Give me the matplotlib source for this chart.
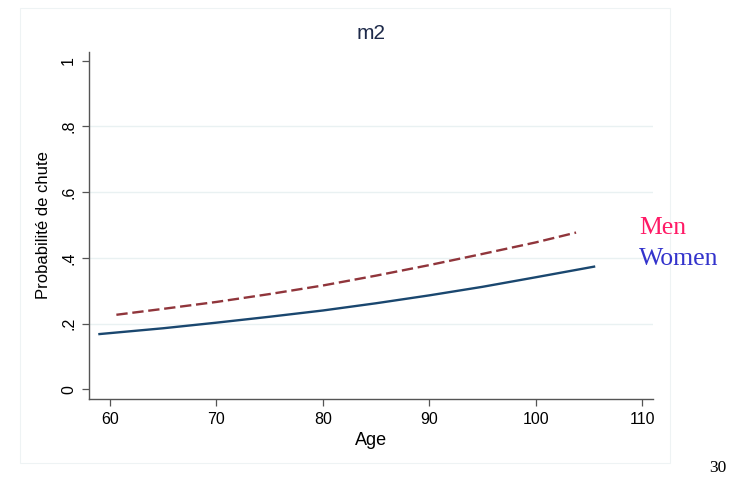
import matplotlib
matplotlib.use("Agg")
import matplotlib.pyplot as plt
from matplotlib.patches import Rectangle

# values
age_women = [58.9, 65, 70, 75, 80, 85, 90, 95, 100, 105.6]
prob_women = [0.168, 0.186, 0.203, 0.221, 0.240, 0.262, 0.286, 0.312, 0.341, 0.374]

age_men = [60.6, 65, 70, 75, 80, 85, 90, 95, 100, 103.8]
prob_men = [0.227, 0.245, 0.266, 0.290, 0.316, 0.346, 0.378, 0.412, 0.447, 0.477]

x_ticks = [60, 70, 80, 90, 100, 110]
y_ticks = [0, 0.2, 0.4, 0.6, 0.8, 1]
y_ticklabels = ["0", ".2", ".4", ".6", ".8", "1"]
grid_vals = [0.2, 0.4, 0.6, 0.8]

plt.rcParams['font.family'] = ['Liberation Sans', 'DejaVu Sans']

fig = plt.figure(figsize=(7.38, 4.79), dpi=100)
fig.patch.set_facecolor('white')

# faint outer frame of the graph region
fig.patches.append(Rectangle((20 / 738, 1 - 463 / 479), 650 / 738, 455 / 479,
                             transform=fig.transFigure, fill=False,
                             edgecolor='#eef3f4', linewidth=0.8))

ax = fig.add_axes([0.1202, 0.1664, 0.7642, 0.7257])
ax.set_xlim(58.0, 111.0)
ax.set_ylim(-0.030, 1.027)

for g in grid_vals:
    ax.axhline(g, color='#e9f1f2', linewidth=1.0, zorder=0)

ax.plot(age_women, prob_women, color='#1a476f', linewidth=1.7, solid_capstyle='butt')
ax.plot(age_men, prob_men, color='#90353b', linewidth=1.7, linestyle=(0, (4.8, 2.0)))

for s in ['top', 'right']:
    ax.spines[s].set_visible(False)
for s in ['left', 'bottom']:
    ax.spines[s].set_color('#555555')
    ax.spines[s].set_linewidth(1.0)

ax.set_xticks(x_ticks)
ax.set_xticklabels([str(t) for t in x_ticks])
ax.set_yticks(y_ticks)
ax.set_yticklabels(y_ticklabels, rotation=90, va='center')
ax.tick_params(axis='both', direction='out', length=5, width=0.9, color='#555555',
               labelsize=11.5, labelcolor='black', pad=4)

ax.set_xlabel('Age', fontsize=13, labelpad=4)
ax.set_ylabel('Probabilité de chute', fontsize=12, labelpad=7)
ax.set_title('m2', fontsize=15, color='#1e2a4a', pad=9)

fig.text(639 / 738, 1 - 228 / 479, 'Men', color='#ff1a66', fontsize=18.5,
         family='Liberation Serif', va='center', ha='left')
fig.text(639 / 738, 1 - 259 / 479, 'Women', color='#3333cc', fontsize=18.5,
         family='Liberation Serif', va='center', ha='left')
fig.text(718 / 738, 1 - 468 / 479, '30', color='black', fontsize=12.5,
         family='Liberation Serif', va='center', ha='center')

fig.savefig('out.png', dpi=100)
